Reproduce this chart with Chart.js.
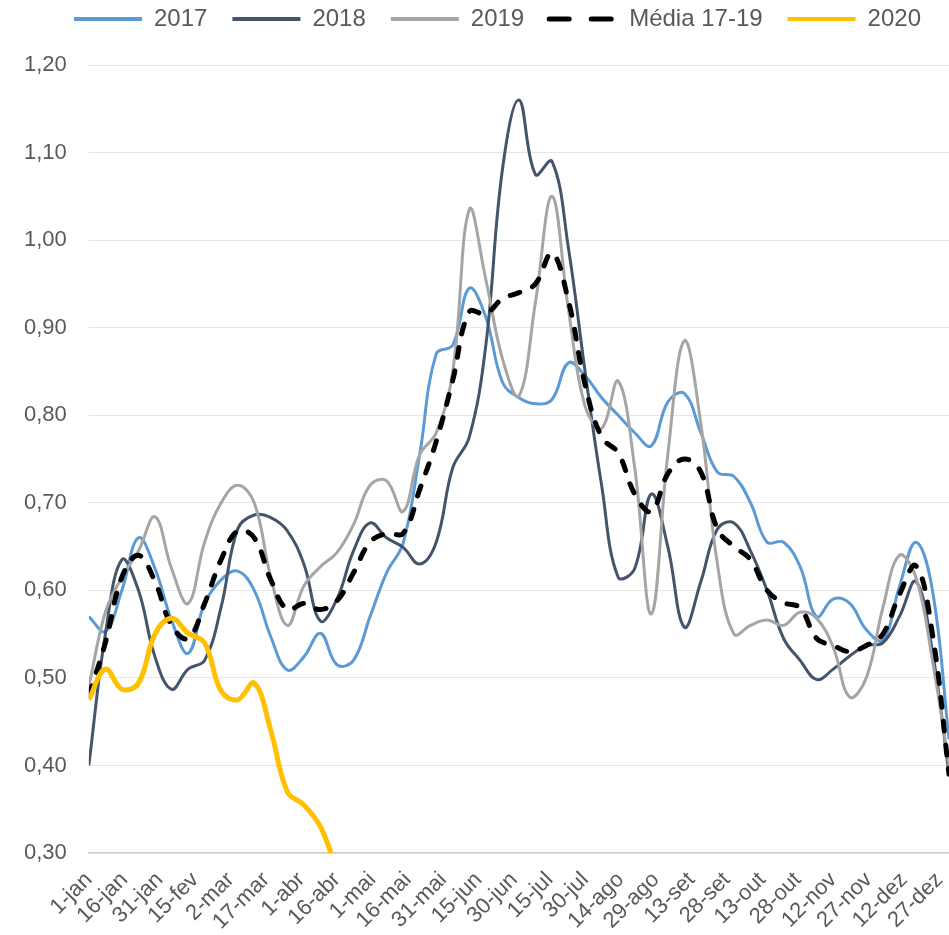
<!DOCTYPE html>
<html><head><meta charset="utf-8">
<script src="https://cdn.jsdelivr.net/npm/chart.js@4.4.1/dist/chart.umd.min.js"></script>
<style>html,body{margin:0;padding:0;background:#fff;}#wrap{width:949px;height:935px;position:relative;}</style>
</head><body><div id="wrap"><canvas id="c"></canvas></div>
<script>
// Day of year (weekly observations)
const days = [0,7,14,21,28,35,42,49,56,63,70,77,84,91,98,105,112,119,126,133,140,147,154,161,168,175,182,189,196,203,210,217,224,231,238,245,252,259,266,273,280,287,294,301,308,315,322,329,336,343,350,357,364];
const tickDays = [0,15,30,45,60,75,90,105,120,135,150,165,180,195,210,225,240,255,270,285,300,315,330,345,360];
const tickLabels = ["1-jan","16-jan","31-jan","15-fev","2-mar","17-mar","1-abr","16-abr","1-mai","16-mai","31-mai","15-jun","30-jun","15-jul","30-jul","14-ago","29-ago","13-set","28-set","13-out","28-out","12-nov","27-nov","12-dez","27-dez"];
const yTicks = [0.30,0.40,0.50,0.60,0.70,0.80,0.90,1.00,1.10,1.20];

const s2017 = [0.57,0.553,0.60,0.66,0.625,0.566,0.528,0.585,0.612,0.622,0.60,0.547,0.509,0.524,0.551,0.515,0.52,0.57,0.62,0.654,0.755,0.87,0.88,0.945,0.912,0.838,0.82,0.813,0.818,0.86,0.845,0.82,0.80,0.78,0.765,0.815,0.825,0.78,0.735,0.73,0.70,0.655,0.655,0.627,0.57,0.59,0.585,0.555,0.543,0.604,0.655,0.60,0.43];
const s2018 = [0.40,0.55,0.635,0.60,0.524,0.487,0.51,0.52,0.581,0.67,0.686,0.683,0.668,0.63,0.565,0.59,0.645,0.677,0.66,0.649,0.63,0.655,0.74,0.775,0.88,1.08,1.16,1.075,1.09,0.99,0.85,0.72,0.615,0.625,0.71,0.65,0.558,0.61,0.67,0.677,0.645,0.60,0.545,0.52,0.498,0.51,0.525,0.537,0.54,0.57,0.61,0.53,0.39];
const s2019 = [0.49,0.575,0.615,0.645,0.684,0.625,0.585,0.655,0.70,0.72,0.70,0.615,0.56,0.605,0.627,0.643,0.675,0.72,0.725,0.69,0.755,0.78,0.85,1.035,0.955,0.865,0.822,0.929,1.05,0.92,0.81,0.785,0.839,0.74,0.573,0.755,0.885,0.79,0.63,0.55,0.56,0.566,0.56,0.575,0.568,0.535,0.478,0.50,0.58,0.64,0.615,0.52,0.40];
const sMedia = [0.48,0.54,0.615,0.64,0.61,0.56,0.545,0.585,0.635,0.668,0.66,0.612,0.578,0.585,0.578,0.588,0.62,0.655,0.665,0.665,0.715,0.77,0.84,0.918,0.916,0.933,0.94,0.95,0.985,0.93,0.835,0.775,0.757,0.71,0.69,0.733,0.75,0.735,0.67,0.65,0.635,0.60,0.586,0.58,0.545,0.537,0.53,0.537,0.55,0.595,0.628,0.55,0.39];
const s2020 = [0.475,0.51,0.487,0.494,0.55,0.568,0.551,0.54,0.485,0.475,0.494,0.44,0.37,0.355,0.33,0.28];

const mk = vals => vals.map((v, i) => ({x: days[i], y: v}));

Chart.defaults.font.family = "'Liberation Sans', Arial, sans-serif";
Chart.defaults.color = '#595959';

const legendPlace = {
  id: 'legendPlace',
  afterLayout(chart) {
    const lg = chart.legend;
    if (!lg) return;
    const h = lg.height;
    lg.top = -18; lg.bottom = lg.top + h;
    const w = lg.width;
    lg.left = 49; lg.right = lg.left + w;
  }
};

const base = {pointRadius: 0, pointHoverRadius: 0, tension: 0.4, fill: false, borderJoinStyle: 'round'};

new Chart(document.getElementById('c'), {
  type: 'line',
  data: {
    datasets: [
      Object.assign({label: '2017', data: mk(s2017), borderColor: '#5B9BD5', backgroundColor: '#5B9BD5', borderWidth: 3, order: 5}, base),
      Object.assign({label: '2018', data: mk(s2018), borderColor: '#44546A', backgroundColor: '#44546A', borderWidth: 3, order: 4}, base),
      Object.assign({label: '2019', data: mk(s2019), borderColor: '#A5A5A5', backgroundColor: '#A5A5A5', borderWidth: 3, order: 3}, base),
      Object.assign({label: 'Média 17-19', data: mk(sMedia), borderColor: '#000000', backgroundColor: '#000000', borderWidth: 5, borderDash: [10, 14], borderCapStyle: 'round', order: 2}, base),
      Object.assign({label: '2020', data: mk(s2020), borderColor: '#FFC000', backgroundColor: '#FFC000', borderWidth: 5, order: 1}, base)
    ]
  },
  options: {
    responsive: true,
    maintainAspectRatio: false,
    animation: false,
    layout: {padding: {left: 2, right: 0, top: 6, bottom: 0}},
    plugins: {
      legend: {
        position: 'top',
        align: 'start',
        labels: {
          usePointStyle: true,
          pointStyle: 'line',
          pointStyleWidth: 68,
          padding: 25,
          color: '#595959',
          font: {size: 24},
          sort: (a, b) => a.datasetIndex - b.datasetIndex,
          generateLabels: chart => {
            const items = Chart.defaults.plugins.legend.labels.generateLabels(chart);
            items.forEach(it => {
              const ds = chart.data.datasets[it.datasetIndex];
              it.strokeStyle = ds.borderColor;
              it.lineWidth = ds.borderDash ? ds.borderWidth : 4;
              it.lineDash = ds.borderDash ? [20, 22] : [];
              it.lineCap = ds.borderDash ? 'round' : 'butt';
            });
            return items;
          }
        }
      },
      tooltip: {enabled: false}
    },
    scales: {
      x: {
        type: 'linear',
        min: 0,
        max: 364,
        grid: {display: false, drawTicks: false},
        border: {display: true, color: '#D0D0D0', width: 1.5},
        afterBuildTicks: s => { s.ticks = tickDays.map(v => ({value: v})); },
        afterFit: s => { s.paddingRight = 0; s.height = 82; },
        ticks: {
          autoSkip: false,
          maxRotation: 45,
          minRotation: 45,
          padding: 14,
          color: '#595959',
          font: {size: 22},
          callback: v => { const i = tickDays.indexOf(v); return i >= 0 ? tickLabels[i] : ''; }
        }
      },
      y: {
        min: 0.3,
        max: 1.2,
        grid: {color: '#E6E6E6', lineWidth: 1, drawTicks: false},
        border: {display: false},
        afterBuildTicks: s => { s.ticks = yTicks.map(v => ({value: v})); },
        ticks: {
          padding: 22,
          color: '#595959',
          font: {size: 22},
          callback: v => Number(v).toFixed(2).replace('.', ',')
        }
      }
    }
  },
  plugins: [legendPlace]
});
</script></body></html>
